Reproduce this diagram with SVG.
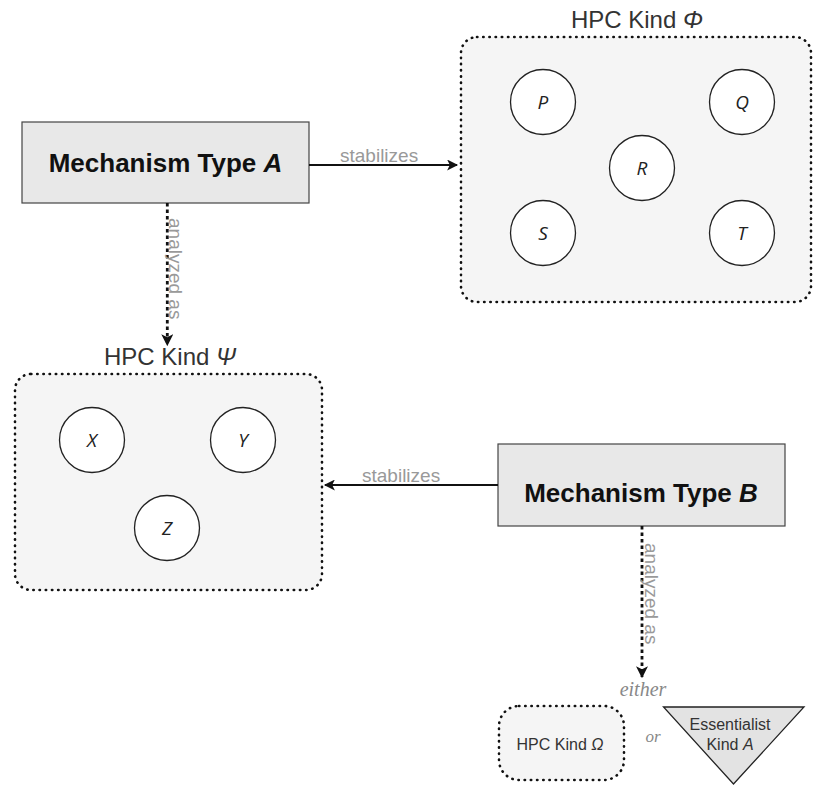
<svg xmlns="http://www.w3.org/2000/svg" width="815" height="785" viewBox="0 0 815 785">
<style>
.container{fill:#f5f5f5;stroke:#111;stroke-width:2.6;stroke-dasharray:0.4 5.8;stroke-linecap:round;}
.mech{fill:#e8e8e8;stroke:#444;stroke-width:1.2;}
.prop{fill:#ffffff;stroke:#222;stroke-width:1.3;}
.mtext{font-family:"Liberation Sans",Arial,sans-serif;font-weight:bold;font-size:26px;fill:#111;text-anchor:middle;}
.title{font-family:"Liberation Sans",Arial,sans-serif;font-size:24px;fill:#333;text-anchor:middle;}
.ptext{font-family:"Open Sans","Liberation Sans",Arial,sans-serif;font-style:italic;font-size:19px;fill:#222;text-anchor:middle;}
.small{font-family:"Liberation Sans",Arial,sans-serif;font-size:16px;fill:#333;text-anchor:middle;}
.elabel{font-family:"Liberation Sans",Arial,sans-serif;font-size:19px;fill:#999;}
.serif{font-family:"Liberation Serif","Times New Roman",serif;font-style:italic;fill:#888;text-anchor:middle;}
.solid{fill:none;stroke:#111;stroke-width:2.2;}
.dashed{fill:none;stroke:#111;stroke-width:2.8;stroke-dasharray:3.5 3;}
</style>
<defs>
<marker id="arr" viewBox="0 0 10 10" refX="9" refY="5" markerWidth="13" markerHeight="11" markerUnits="userSpaceOnUse" orient="auto">
<path d="M0,0 L10,5 L0,10 L2.5,5 Z" fill="#111"/>
</marker>
<marker id="arrd" viewBox="0 0 10 10" refX="9" refY="5" markerWidth="12" markerHeight="12" markerUnits="userSpaceOnUse" orient="auto">
<path d="M0,0 L10,5 L0,10 L2.5,5 Z" fill="#111"/>
</marker>
</defs>

<g id="kind-phi">
<rect class="container" x="461" y="37" width="350" height="265" rx="16"/>
<text class="title" x="637" y="27.5">HPC Kind <tspan font-style="italic">Φ</tspan></text>
<g id="prop-P"><circle class="prop" cx="543" cy="102" r="32.5"/><text class="ptext" x="543" y="109">P</text></g>
<g id="prop-Q"><circle class="prop" cx="742" cy="102" r="32.5"/><text class="ptext" x="742" y="109">Q</text></g>
<g id="prop-R"><circle class="prop" cx="642" cy="168" r="32.5"/><text class="ptext" x="642" y="175">R</text></g>
<g id="prop-S"><circle class="prop" cx="543" cy="233" r="32.5"/><text class="ptext" x="543" y="240">S</text></g>
<g id="prop-T"><circle class="prop" cx="742" cy="233" r="32.5"/><text class="ptext" x="742" y="240">T</text></g>
</g>

<g id="kind-psi">
<rect class="container" x="15" y="374" width="307" height="216" rx="16"/>
<text class="title" x="170" y="365">HPC Kind <tspan font-style="italic">Ψ</tspan></text>
<g id="prop-X"><circle class="prop" cx="92" cy="440" r="32.5"/><text class="ptext" x="92" y="447">X</text></g>
<g id="prop-Y"><circle class="prop" cx="243" cy="440" r="32.5"/><text class="ptext" x="243" y="447">Y</text></g>
<g id="prop-Z"><circle class="prop" cx="167" cy="528" r="32.5"/><text class="ptext" x="167" y="535">Z</text></g>
</g>

<g id="mech-A">
<rect class="mech" x="22" y="122" width="287" height="81"/>
<text class="mtext" x="165.5" y="172">Mechanism Type <tspan font-style="italic">A</tspan></text>
</g>

<g id="mech-B">
<rect class="mech" x="498" y="444" width="287" height="82"/>
<text class="mtext" x="641" y="501.5">Mechanism Type <tspan font-style="italic">B</tspan></text>
</g>

<g id="kind-omega">
<rect class="container" x="499" y="706" width="125" height="74" rx="20"/>
<text class="small" x="560" y="750">HPC Kind <tspan font-style="italic">Ω</tspan></text>
</g>

<g id="essentialist-kind">
<polygon points="663.5,707 804,707 733.5,784" fill="#e3e3e3" stroke="#222" stroke-width="1.3"/>
<text class="small" x="730" y="730">Essentialist</text>
<text class="small" x="730" y="750">Kind <tspan font-style="italic">A</tspan></text>
</g>

<g id="connectors">
<line class="solid" x1="309" y1="165" x2="457" y2="165" marker-end="url(#arr)"/>
<text class="elabel" x="340" y="161.5">stabilizes</text>
<line class="dashed" x1="167.3" y1="203" x2="167.3" y2="345" marker-end="url(#arrd)"/>
<text class="elabel" transform="translate(169,218) rotate(90)">analyzed as</text>
<line class="solid" x1="498" y1="485" x2="325" y2="485" marker-end="url(#arr)"/>
<text class="elabel" x="362" y="481.5">stabilizes</text>
<line class="dashed" x1="642" y1="526" x2="642" y2="677" marker-end="url(#arrd)"/>
<text class="elabel" transform="translate(645,543) rotate(90)">analyzed as</text>
<text class="serif" x="643" y="696" font-size="20">either</text>
<text class="serif" x="653" y="742" font-size="17">or</text>
</g>
</svg>
